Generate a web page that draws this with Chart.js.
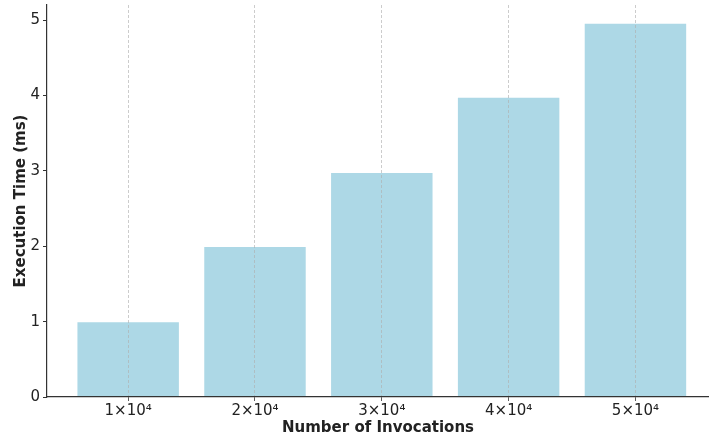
<!DOCTYPE html>
<html>
<head>
<meta charset="utf-8">
<script src="https://cdn.jsdelivr.net/npm/chart.js@4"></script>
<style>
  html, body { margin: 0; padding: 0; background: #fff; }
  #wrap { width: 709px; height: 439px; }
</style>
</head>
<body>
<div id="wrap"><canvas id="chart" width="709" height="439"></canvas></div>
<script>
const categories = ['1×10⁴', '2×10⁴', '3×10⁴', '4×10⁴', '5×10⁴'];
const execTimes = [0.99, 1.99, 2.97, 3.97, 4.95];
const yTicks = [0, 1, 2, 3, 4, 5];

const font = 'DejaVu Sans';
const textColor = '#222';

const points = categories.map((c, i) => ({ x: i, y: execTimes[i] }));

new Chart(document.getElementById('chart').getContext('2d'), {
    type: 'bar',
    data: {
        datasets: [{
            data: points,
            backgroundColor: '#ADD8E6',
            borderWidth: 0,
            barPercentage: 0.8,
            categoryPercentage: 1.0
        }]
    },
    options: {
        responsive: false,
        animation: false,
        layout: { padding: { top: 5, right: 0, left: 0, bottom: 0 } },
        plugins: {
            legend: { display: false },
            tooltip: { enabled: false }
        },
        scales: {
            x: {
                type: 'linear',
                offset: false,
                min: -0.64,
                max: 4.58,
                afterBuildTicks: (scale) => {
                    scale.ticks = categories.map((c, i) => ({ value: i }));
                },
                afterFit: (scale) => {
                    scale.height = 42;
                    scale.paddingLeft = 0;
                    scale.paddingRight = 0;
                },
                ticks: {
                    callback: (v) => categories[v],
                    color: textColor,
                    font: { family: font, size: 15 },
                    padding: 1,
                    maxRotation: 0
                },
                grid: {
                    offset: false,
                    z: 1,
                    color: 'rgba(175,175,175,0.8)',
                    lineWidth: 0.8,
                    tickColor: '#333',
                    tickLength: 4,
                    tickBorderDash: []
                },
                border: { display: true, z: 1, color: '#333', width: 1.2, dash: [3, 2] },
                title: {
                    display: true,
                    text: 'Number of Invocations',
                    color: textColor,
                    font: { family: font, size: 15, weight: 'bold' },
                    padding: { top: 0, bottom: 2 }
                }
            },
            y: {
                min: 0,
                max: 5.2,
                afterBuildTicks: (scale) => {
                    scale.ticks = yTicks.map(v => ({ value: v }));
                },
                afterFit: (scale) => {
                    scale.width = 47;
                    scale.paddingTop = 0;
                    scale.paddingBottom = 0;
                },
                ticks: {
                    color: textColor,
                    font: { family: font, size: 15 },
                    padding: 3
                },
                grid: {
                    drawOnChartArea: false,
                    tickColor: '#333',
                    tickLength: 4
                },
                border: { display: true, color: '#333', width: 1.2 },
                title: {
                    display: true,
                    text: 'Execution Time (ms)',
                    color: textColor,
                    font: { family: font, size: 15, weight: 'bold' },
                    padding: { top: 12, bottom: 0 }
                }
            }
        }
    }
});
</script>
</body>
</html>
